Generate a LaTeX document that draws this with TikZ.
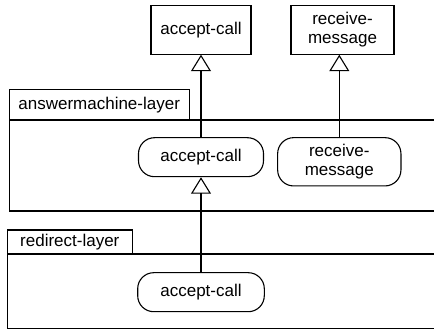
\documentclass[tikz,border=0pt]{standalone}
\usepackage{fontspec}
\setmainfont{Liberation Sans}
\usetikzlibrary{arrows.meta}
\begin{document}
\begin{tikzpicture}[x=1pt,y=-1pt,
  font=\fontsize{17}{19}\selectfont, line width=1.1pt,
  classbox/.style={draw, inner sep=0pt, align=center, minimum height=48.3pt},
  roundbox/.style={draw, rounded corners=16pt, inner sep=0pt, align=center},
  tabbox/.style={draw, inner sep=0pt},
  inherit/.style={-{Triangle[open,length=16.5pt,width=20pt]}}]
\useasboundingbox (0,0) rectangle (434,331);
% classes at top
\node[classbox, minimum width=100pt] (ac) at (201,30) {accept-call};
\node[classbox, minimum width=103pt] (rm) at (342.5,30) {receive-\\message};
% answermachine layer
\node[tabbox, minimum width=179.7pt, minimum height=30.7pt] (t1) at (99.2,104.7) {answermachine-layer};
\draw (434,120) -- (9.3,120) -- (9.3,211) -- (434,211);
\node[roundbox, minimum width=125pt, minimum height=39pt] (ac1) at (201,157.2) {accept-call};
\node[roundbox, minimum width=123.3pt, minimum height=48.3pt] (rm1) at (339.3,161.8) {receive-\\message};
% redirect layer
\node[tabbox, minimum width=125pt, minimum height=24pt] (t2) at (69.8,242) {redirect-layer};
\draw (434,254) -- (7.3,254) -- (7.3,328.5) -- (434,328.5);
\node[roundbox, minimum width=126.6pt, minimum height=39pt] (ac2) at (201,292.2) {accept-call};
% inheritance arrows
\draw[inherit] (ac1) -- (ac);
\draw[inherit] (rm1.north) -- (rm1.north |- rm.south);
\draw[inherit] (ac2) -- (ac1);
\end{tikzpicture}
\end{document}
